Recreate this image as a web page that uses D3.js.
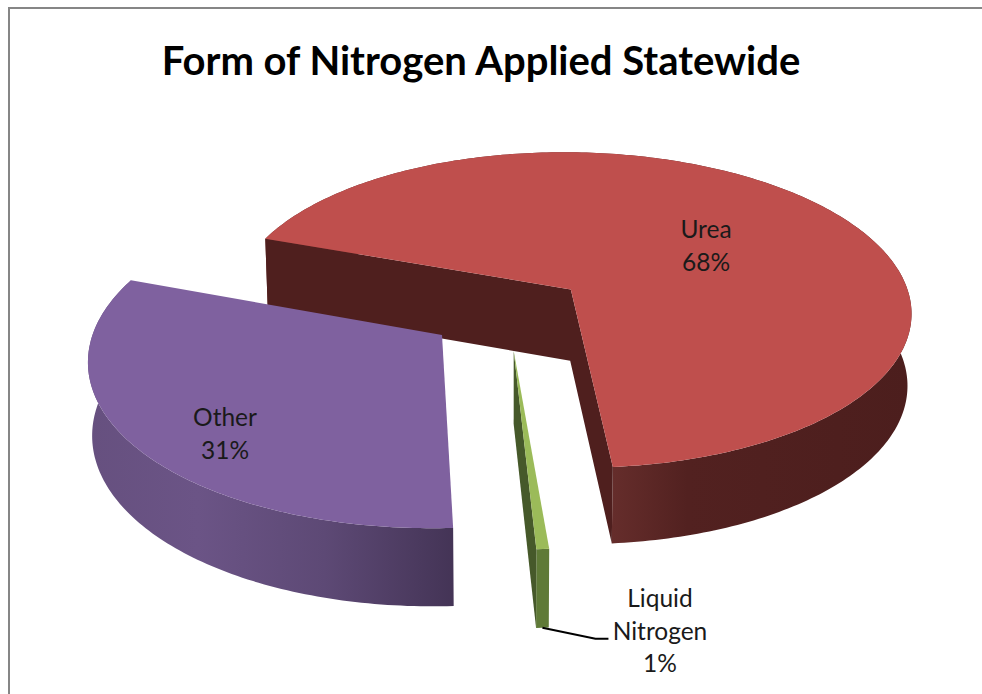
<!DOCTYPE html>
<html>
<head>
<meta charset="utf-8">
<script src="https://d3js.org/d3.v7.min.js"></script>
<style>
    html, body { margin: 0; padding: 0; background: #fff; overflow: hidden; }
    text { font-family: Lato, "Open Sans", sans-serif; fill: #1a1a1a; }
    .title { font-weight: 700; fill: #000; }
</style>
</head>
<body>
<script>
const chartTitle = "Form of Nitrogen Applied Statewide";
const categories = ["Urea", "Liquid Nitrogen", "Other"];
const values = [68.1, 0.5, 31.4];
const topColors = ["#bf4f4d", "#9bbb59", "#7f619f"];
const wallColors = ["#4f1f1e", "#46592a", "#4a3a60"];
const rimStops = [
    [[0, "#652d2b"], [0.25, "#522120"], [1, "#4c1e1d"]],
    [[0, "#5f7a37"], [1, "#5f7a37"]],
    [[0, "#66507f"], [0.3, "#6b5486"], [0.65, "#5d4975"], [1, "#443456"]]
];

let width = 982, height = 694;
let svg = d3.select("body").append("svg")
    .attr("width", width)
    .attr("height", height);

// frame, cropped on the right and bottom like the original screenshot
svg.append("path")
    .attr("d", d3.line()([[9, height], [9, 8], [width, 8]]))
    .attr("fill", "none")
    .attr("stroke", "#868686")
    .attr("stroke-width", 2);

svg.append("text")
    .attr("class", "title")
    .attr("x", 481)
    .attr("y", 75)
    .attr("text-anchor", "middle")
    .attr("font-size", 40)
    .text(chartTitle);

// plane of the pie -> screen
let explode = 0.235, persp = 0.1326;
let x = d3.scaleLinear().domain([-1, 1]).range([508 - 343, 508 + 343]);
let y = d3.scaleLinear().domain([-1, 1]).range([312 - 161, 312 + 161]);
let polar = function (a, r) { return [r * Math.sin(a), -r * Math.cos(a)]; };
let topPoint = function (p) {
    let w = 1 - persp * p[1];
    return [x(p[0] / w), y(p[1] / w)];
};
let bottomPoint = function (p) {
    let w = 1 - persp * p[1];
    let s = topPoint(p);
    return [x(0) + (s[0] - x(0)) * 0.99, s[1] + 72 / Math.sqrt(w)];
};

let pie = d3.pie().sort(null).value(function (d) { return d; })
    .startAngle(-70 * Math.PI / 180)
    .endAngle(290 * Math.PI / 180);
let line = d3.line();
let defs = svg.append("defs");

let slices = pie(values).map(function (d, i) {
    let mid = (d.startAngle + d.endAngle) / 2;
    let off = polar(mid, explode);
    let at = function (a, r) {
        let q = polar(a, r);
        return [off[0] + q[0], off[1] + q[1]];
    };
    let n = Math.max(2, Math.ceil((d.endAngle - d.startAngle) * 60));
    let arc = d3.range(n + 1).map(function (k) {
        return at(d.startAngle + (d.endAngle - d.startAngle) * k / n, 1);
    });
    return {i: i, off: off, arc: arc, apex: at(0, 0), start: arc[0], end: arc[n]};
});

// back to front: Urea first, the exploded slices cover its walls
slices.forEach(function (s) {
    let g = svg.append("g").attr("class", "slice");
    let front = s.arc.filter(function (p) { return p[1] > s.off[1] - 0.02; });
    let rimXs = front.map(function (p) { return topPoint(p)[0]; });
    let grad = defs.append("linearGradient")
        .attr("id", "rim" + s.i)
        .attr("gradientUnits", "userSpaceOnUse")
        .attr("x1", d3.min(rimXs))
        .attr("x2", d3.max(rimXs))
        .attr("y1", 0).attr("y2", 0);
    rimStops[s.i].forEach(function (c) {
        grad.append("stop").attr("offset", c[0]).attr("stop-color", c[1]);
    });

    g.append("path")
        .attr("d", line(s.arc.map(topPoint).concat(s.arc.slice().reverse().map(bottomPoint))) + "Z")
        .attr("fill", "url(#rim" + s.i + ")");
    // inner walls, one path so no seam shows at the apex
    if (s.i === 0) {
        g.append("path")
            .attr("d", line([s.start, s.apex, s.end].map(topPoint).concat([s.end, s.apex, s.start].map(bottomPoint))) + "Z")
            .attr("fill", wallColors[s.i]);
    } else if (s.i === 1) {
        g.append("path")
            .attr("d", line([s.apex, s.end].map(topPoint).concat([s.end, s.apex].map(bottomPoint))) + "Z")
            .attr("fill", wallColors[s.i]);
    }
    g.append("path")
        .attr("d", line([s.apex].concat(s.arc).map(topPoint)) + "Z")
        .attr("fill", topColors[s.i]);
});

// leader line for the small slice
let tick = bottomPoint(slices[1].arc[1]);
svg.append("path")
    .attr("d", line([tick, [tick[0] + 53, tick[1] + 11], [tick[0] + 66, tick[1] + 11]]))
    .attr("fill", "none")
    .attr("stroke", "#000")
    .attr("stroke-width", 2);

// labels
let labelLines = [["Urea"], ["Liquid", "Nitrogen"], ["Other"]];
let labelPlace = [[706, 238], [660, 607], [225, 426]];
categories.forEach(function (c, i) {
    let t = svg.append("text")
        .attr("text-anchor", "middle")
        .attr("font-size", 24.5);
    labelLines[i].concat([Math.round(values[i]) + "%"]).forEach(function (l, k) {
        t.append("tspan")
            .attr("x", labelPlace[i][0])
            .attr("y", labelPlace[i][1] + k * 32.5)
            .text(l);
    });
});
</script>
</body>
</html>
